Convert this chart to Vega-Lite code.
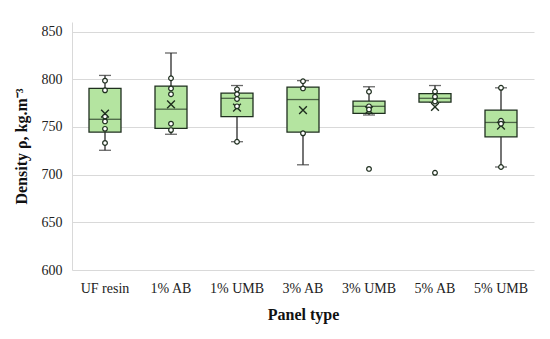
{
  "$schema": "https://vega.github.io/schema/vega-lite/v6.json",
  "width": 462,
  "height": 248,
  "autosize": {"type": "none"},
  "padding": {"left": 72, "top": 22, "right": 16, "bottom": 69},
  "background": "white",
  "config": {
    "view": {"stroke": null},
    "font": "Liberation Serif",
    "axis": {"labelFont": "Liberation Serif", "titleFont": "Liberation Serif", "labelColor": "#222", "titleColor": "#111"}
  },
  "datasets": {
    "boxes": [
      {"group": "UF resin", "lo": 725.5, "q1": 744.6, "med": 758, "q3": 790.4, "hi": 804, "mean": 764},
      {"group": "1% AB", "lo": 742.3, "q1": 748.4, "med": 768.6, "q3": 792.8, "hi": 827.5, "mean": 773.6},
      {"group": "1% UMB", "lo": 734.5, "q1": 760.8, "med": 780, "q3": 785.4, "hi": 793.4, "mean": 770.2},
      {"group": "3% AB", "lo": 710.3, "q1": 744.6, "med": 778.7, "q3": 791.8, "hi": 798.5, "mean": 767.6},
      {"group": "3% UMB", "lo": 762.5, "q1": 764.1, "med": 771.6, "q3": 777, "hi": 792.1, "mean": 767.6},
      {"group": "5% AB", "lo": 776, "q1": 776, "med": 780, "q3": 785, "hi": 793.4, "mean": 771},
      {"group": "5% UMB", "lo": 708, "q1": 739.6, "med": 754.7, "q3": 767.6, "hi": 791, "mean": 751.4}
    ],
    "points": [
      {"group": "UF resin", "v": 798.5}, {"group": "UF resin", "v": 788.4}, {"group": "UF resin", "v": 760.8},
      {"group": "UF resin", "v": 755.8}, {"group": "UF resin", "v": 748}, {"group": "UF resin", "v": 733.2},
      {"group": "1% AB", "v": 801}, {"group": "1% AB", "v": 790.4}, {"group": "1% AB", "v": 784.3},
      {"group": "1% AB", "v": 753.4}, {"group": "1% AB", "v": 746.7},
      {"group": "1% UMB", "v": 789.4}, {"group": "1% UMB", "v": 784.3}, {"group": "1% UMB", "v": 779.3},
      {"group": "1% UMB", "v": 771.6}, {"group": "1% UMB", "v": 734.5},
      {"group": "3% AB", "v": 797.9}, {"group": "3% AB", "v": 790.4}, {"group": "3% AB", "v": 743.3},
      {"group": "3% UMB", "v": 787}, {"group": "3% UMB", "v": 771.6}, {"group": "3% UMB", "v": 768.2}, {"group": "3% UMB", "v": 706},
      {"group": "5% AB", "v": 787.1}, {"group": "5% AB", "v": 781.7}, {"group": "5% AB", "v": 776.7}, {"group": "5% AB", "v": 701.9},
      {"group": "5% UMB", "v": 791}, {"group": "5% UMB", "v": 756.5}, {"group": "5% UMB", "v": 753.4}, {"group": "5% UMB", "v": 708}
    ]
  },
  "encoding": {
    "x": {
      "field": "group", "type": "nominal",
      "sort": ["UF resin", "1% AB", "1% UMB", "3% AB", "3% UMB", "5% AB", "5% UMB"],
      "scale": {"paddingInner": 0, "paddingOuter": 0},
      "axis": {"title": "Panel type", "labelAngle": 0, "ticks": false, "domain": false, "labelFontSize": 14, "labelPadding": 11, "titleFontSize": 16, "titleFontWeight": "bold", "titlePadding": 11}
    }
  },
  "layer": [
    {
      "data": {"name": "boxes"},
      "mark": {"type": "rule", "color": "#2a2a2a", "strokeWidth": 1.3},
      "encoding": {
        "y": {"field": "lo", "type": "quantitative", "scale": {"domain": [600, 850]},
          "axis": {"title": "Density ρ, kg.m⁻³", "values": [600, 650, 700, 750, 800, 850], "grid": true, "gridColor": "#d9d9d9", "domainColor": "#d9d9d9", "ticks": false, "labelFontSize": 14, "labelPadding": 10, "titleFontSize": 16, "titleFontWeight": "bold", "titlePadding": 12}},
        "y2": {"field": "hi"}
      }
    },
    {
      "data": {"name": "boxes"},
      "mark": {"type": "tick", "color": "#2a2a2a", "size": 12, "thickness": 1.3},
      "encoding": {"y": {"field": "lo", "type": "quantitative"}}
    },
    {
      "data": {"name": "boxes"},
      "mark": {"type": "tick", "color": "#2a2a2a", "size": 12, "thickness": 1.3},
      "encoding": {"y": {"field": "hi", "type": "quantitative"}}
    },
    {
      "data": {"name": "boxes"},
      "mark": {"type": "bar", "fill": "#b4e4a0", "stroke": "#1f2f1f", "strokeWidth": 1.3, "width": 32},
      "encoding": {"y": {"field": "q1", "type": "quantitative"}, "y2": {"field": "q3"}}
    },
    {
      "data": {"name": "boxes"},
      "mark": {"type": "tick", "color": "#1f2f1f", "size": 32, "thickness": 1.3},
      "encoding": {"y": {"field": "med", "type": "quantitative"}}
    },
    {
      "data": {"name": "boxes"},
      "mark": {"type": "point", "shape": "M-1,-1L1,1M-1,1L1,-1", "filled": false, "stroke": "#1f2f1f", "strokeWidth": 1.4, "size": 60, "opacity": 1},
      "encoding": {"y": {"field": "mean", "type": "quantitative"}}
    },
    {
      "data": {"name": "points"},
      "mark": {"type": "point", "shape": "circle", "filled": true, "fill": "white", "stroke": "#1f2f1f", "strokeWidth": 1.2, "size": 22, "opacity": 1},
      "encoding": {"y": {"field": "v", "type": "quantitative"}}
    }
  ]
}
